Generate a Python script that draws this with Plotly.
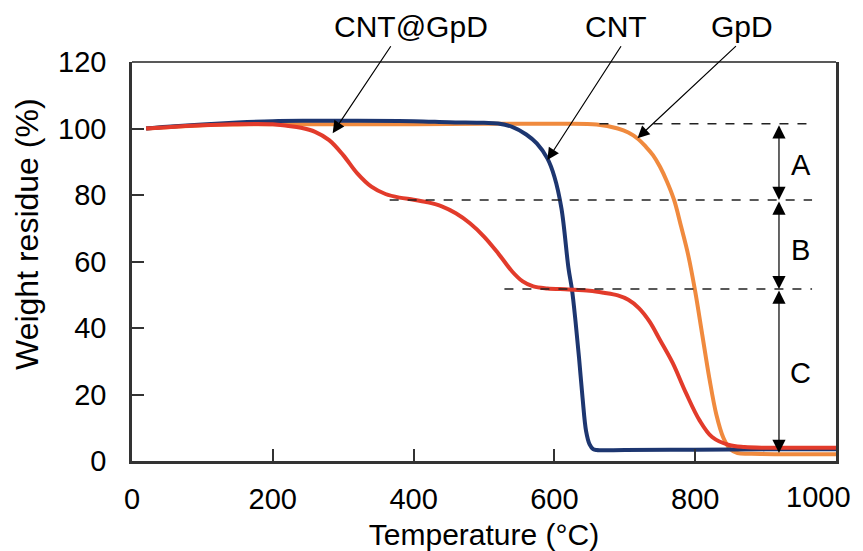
import plotly.graph_objects as go

# ---- data ----
cnt_T = [20, 50, 100, 150, 200, 250, 300, 400, 450, 500, 520, 540, 560, 575, 590, 600, 610,
         620, 625, 630, 635, 640, 645, 650, 655, 660, 700, 800, 900, 1000]
cnt_W = [100, 100.5, 101.2, 101.8, 102.2, 102.3, 102.3, 102.2, 101.9, 101.7, 101.5, 100.5, 98.2,
         95.5, 91, 85.5, 76, 58, 51.5, 42, 31, 19, 9, 5, 3.6, 3.3, 3.3, 3.4, 3.5, 3.5]

gpd_T = [20, 60, 100, 150, 200, 300, 400, 500, 600, 660, 690, 705, 718, 730, 740, 750, 760, 770,
         780, 790, 800, 810, 820, 830, 840, 850, 860, 880, 1000]
gpd_W = [100, 100.5, 101, 101.2, 101.3, 101.3, 101.3, 101.4, 101.4, 101.2, 100, 98.8, 97, 94.5,
         92, 88.5, 84, 78.5, 70.5, 62, 51, 38, 25, 14, 7, 3.5, 2.4, 2.2, 2.0]

cg_T = [20, 100, 200, 220, 240, 260, 280, 300, 320, 340, 360, 380, 400, 420, 440, 460, 480, 500,
        520, 540, 555, 570, 590, 620, 650, 670, 690, 705, 720, 735, 750, 768, 787, 806, 824, 848,
        870, 900, 1000]
cg_W = [100, 101, 101.3, 100.8, 100.2, 99, 96.5, 92, 86.5, 82.5, 80.3, 79.2, 78.6, 77.8, 76.6,
        74.5, 71.5, 67.5, 62.5, 57, 54, 52.5, 51.9, 51.6, 51.2, 50.6, 49.8, 48.5, 46, 42, 36.4,
        29.5, 20.4, 12.3, 7.2, 4.8, 4.2, 4, 4]

x_ticks = [0, 200, 400, 600, 800, 1000]
x_ticktext = ["0", "200", "400", "600", "800", ""]
x_last_label = "1000"
y_ticks = [0, 20, 40, 60, 80, 100, 120]

# stage levels (%)
level_A_top = 101.4
level_AB = 78.5
level_BC = 51.7
level_C_bottom = 2.4

BLUE = "#1d3670"
ORANGE = "#f08a3e"
RED = "#e23b2b"
FONT = "Liberation Sans, Arial, sans-serif"

fig = go.Figure()
fig.add_trace(go.Scatter(x=gpd_T, y=gpd_W, mode="lines", line=dict(color=ORANGE, width=4, shape="spline", smoothing=1.0), name="GpD"))
fig.add_trace(go.Scatter(x=cnt_T, y=cnt_W, mode="lines", line=dict(color=BLUE, width=4, shape="spline", smoothing=1.0), name="CNT"))
fig.add_trace(go.Scatter(x=cg_T, y=cg_W, mode="lines", line=dict(color=RED, width=4, shape="spline", smoothing=1.0), name="CNT@GpD"))

# dashed reference lines
for x0, yv in [(664, level_A_top), (366, level_AB), (529, level_BC)]:
    fig.add_shape(type="line", xref="x", yref="y", x0=x0, x1=966, y0=yv, y1=yv,
                  line=dict(color="#222222", width=1.5, dash="dash"))

# top border (thin)
fig.add_shape(type="line", xref="paper", yref="paper", x0=0, x1=1, y0=1, y1=1,
              line=dict(color="#222222", width=1.5))

ann = []
# sample labels with arrows
for text, tx, tail_x, tip_x, tip_y in [("CNT@GpD", 397, 369, 285, 98.6),
                                        ("CNT", 688, 696, 590, 90.5),
                                        ("GpD", 867, 860, 718, 97.1)]:
    ann.append(dict(x=tx, y=1.088, xref="x", yref="paper", text=text, showarrow=False,
                    yanchor="middle", font=dict(family=FONT, size=30, color="black")))
    ann.append(dict(x=tip_x, y=tip_y, xref="x", yref="y", ax=tail_x, ay=125.2, axref="x", ayref="y",
                    text="", showarrow=True, arrowhead=2, arrowsize=2.0, arrowwidth=1.2,
                    arrowcolor="black", standoff=0))

# stage arrows
for top, bot, label, ly in [(level_A_top, level_AB, "A", 89),
                            (level_AB, level_BC, "B", 63.5),
                            (level_BC, level_C_bottom, "C", 26.5)]:
    ann.append(dict(x=919, y=bot, xref="x", yref="y", ax=919, ay=top, axref="x", ayref="y",
                    text="", showarrow=True, arrowhead=2, arrowside="end+start", arrowsize=2.2,
                    arrowwidth=1.2, arrowcolor="black", standoff=0, startstandoff=0))
    ann.append(dict(x=950, y=ly, xref="x", yref="y", text=label, showarrow=False,
                    font=dict(family=FONT, size=29, color="black")))

# last x tick label, kept inside the picture as in the reference
ann.append(dict(x=1000, y=0, xref="x", yref="paper", text=x_last_label, showarrow=False,
                xanchor="right", yanchor="middle", xshift=17, yshift=-36,
                font=dict(family=FONT, size=29, color="black")))

# y-axis title
ann.append(dict(x=-0.15, y=0.57, xref="paper", yref="paper", text="Weight residue (%)",
                textangle=-90, showarrow=False, xanchor="center", yanchor="middle",
                font=dict(family=FONT, size=32, color="black")))

fig.update_layout(
    width=855, height=543,
    margin=dict(l=124, r=27, t=54, b=90),
    paper_bgcolor="white", plot_bgcolor="white",
    showlegend=False,
    annotations=ann,
    font=dict(family=FONT, color="black"),
    xaxis=dict(range=[0, 1000], tickvals=x_ticks, ticktext=x_ticktext, automargin=False,
               ticks="inside", ticklen=12, tickwidth=2, tickcolor="#333333",
               showline=True, linewidth=2.5, linecolor="#333333", mirror=False,
               showgrid=False, zeroline=False, ticklabelstandoff=10,
               tickfont=dict(family=FONT, size=29, color="black"),
               title=dict(text="Temperature (°C)", font=dict(family=FONT, size=30, color="black"),
                          standoff=14)),
    yaxis=dict(range=[0, 120], tickvals=y_ticks, automargin=False,
               ticks="inside", ticklen=12, tickwidth=2, tickcolor="#333333",
               showline=True, linewidth=2.5, linecolor="#333333", mirror=True,
               showgrid=False, zeroline=False, ticklabelstandoff=17,
               tickfont=dict(family=FONT, size=29, color="black")),
)

fig.write_html("out.html")
